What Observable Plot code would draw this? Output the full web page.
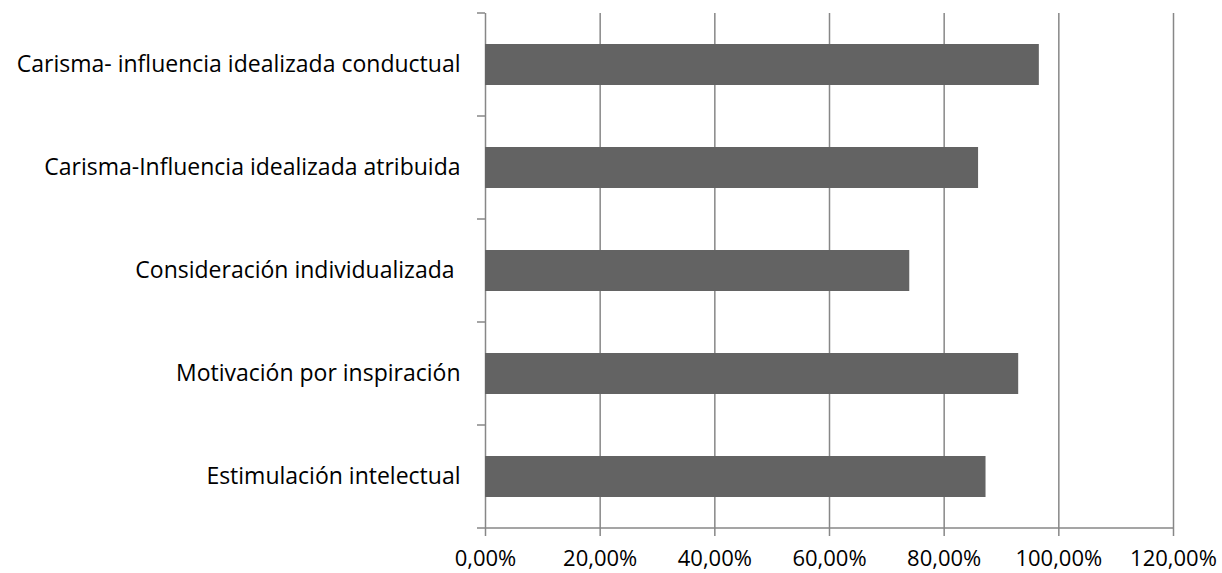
<!DOCTYPE html>
<html>
<head>
<meta charset="utf-8">
<script src="https://cdn.jsdelivr.net/npm/d3@7"></script>
<script src="https://cdn.jsdelivr.net/npm/@observablehq/plot@0.6"></script>
<style>
  body { margin: 0; background: #fff; }
  svg text { white-space: pre; }
</style>
</head>
<body>
<div id="chart"></div>
<script>
// Dimensiones del liderazgo transformacional (de arriba abajo)
const categories = [
  "Carisma- influencia idealizada conductual",
  "Carisma-Influencia idealizada atribuida",
  "Consideración individualizada ",
  "Motivación por inspiración",
  "Estimulación intelectual"
];
const values = [0.966, 0.860, 0.740, 0.930, 0.873];
const xTicks = [0, 0.2, 0.4, 0.6, 0.8, 1.0, 1.2];

const data = categories.map((c, i) => ({category: c, value: values[i]}));

const barColor = "#636363";
const lineColor = "#878787";
const tickLen = 8;

const fmt = d => (d * 100).toFixed(2).replace(".", ",") + "%";

// Marcas de separación entre categorías y línea base del eje X
function categoryTicks(index, scales, channels, dims) {
  const g = d3.create("svg:g").attr("stroke", lineColor).attr("stroke-width", 1.5);
  const top = dims.marginTop;
  const bottom = dims.height - dims.marginBottom;
  const left = dims.marginLeft;
  const right = dims.width - dims.marginRight;
  const step = (bottom - top) / categories.length;
  for (let i = 0; i <= categories.length; i++) {
    const yy = top + i * step;
    g.append("line").attr("x1", left - tickLen).attr("x2", left).attr("y1", yy).attr("y2", yy);
  }
  g.append("line").attr("x1", left).attr("x2", right).attr("y1", bottom).attr("y2", bottom);
  return g.node();
}

const chart = Plot.plot({
  width: 1222,
  height: 573,
  marginTop: 13,
  marginBottom: 45,
  marginLeft: 485,
  marginRight: 49,
  style: {fontFamily: "'Open Sans', sans-serif", fontSize: "23px", color: "#000", background: "#fff"},
  x: {domain: [0, 1.2]},
  y: {domain: categories, paddingInner: 0.6, paddingOuter: 0.3},
  marks: [
    Plot.ruleX(xTicks, {stroke: lineColor, strokeWidth: 1.5}),
    Plot.barX(data, {x: "value", y: "category", fill: barColor}),
    categoryTicks,
    Plot.axisX({ticks: xTicks, tickFormat: fmt, tickSize: tickLen, tickPadding: 14, stroke: lineColor, strokeWidth: 1.5, strokeOpacity: 1, label: null, fontSize: 22}),
    Plot.axisY({tickSize: 0, tickPadding: 25, label: null, fontSize: 23})
  ]
});

document.getElementById("chart").appendChild(chart);
</script>
</body>
</html>
